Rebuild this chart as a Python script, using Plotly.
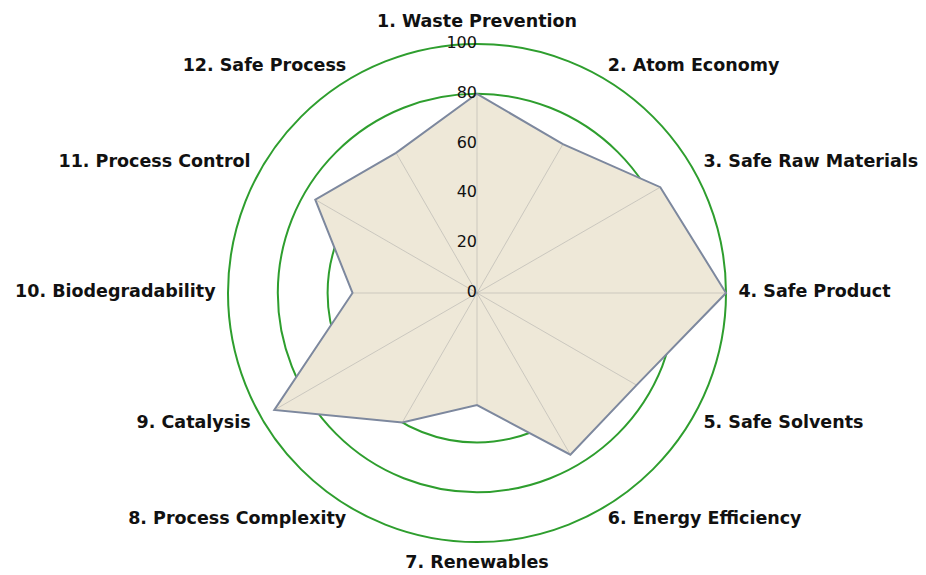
import plotly.graph_objects as go

categories = ["1. Waste Prevention", "2. Atom Economy", "3. Safe Raw Materials",
              "4. Safe Product", "5. Safe Solvents", "6. Energy Efficiency",
              "7. Renewables", "8. Process Complexity", "9. Catalysis",
              "10. Biodegradability", "11. Process Control", "12. Safe Process"]
scores = [80, 69, 85, 100, 74, 75, 45, 60, 94, 50, 75, 65]
tick_values = [0, 20, 40, 60, 80, 100]
tick_labels = ["0", "20", "40", "60", "80", "100"]

fig = go.Figure()

fig.add_trace(go.Scatterpolar(
    r=scores + [scores[0]],
    theta=categories + [categories[0]],
    mode="lines",
    fill="toself",
    fillcolor="#EEE8D8",
    line=dict(color="#7D889E", width=2),
    hoverinfo="skip",
    showlegend=False,
))

# spokes drawn only within the filled area
for c, v in zip(categories, scores):
    fig.add_trace(go.Scatterpolar(
        r=[0, v], theta=[c, c], mode="lines",
        line=dict(color="rgba(160,160,160,0.45)", width=1),
        hoverinfo="skip", showlegend=False,
    ))

# radial tick labels
fig.add_trace(go.Scatterpolar(
    r=tick_values, theta=[categories[0]] * len(tick_values),
    mode="text", text=tick_labels, textposition="middle left",
    textfont=dict(size=16, color="#111111", family="DejaVu Sans"),
    hoverinfo="skip", showlegend=False,
))

# category labels placed just outside the outer ring
n = len(categories)
positions = []
for i in range(n):
    if i == 0:
        positions.append("top center")
    elif i < n // 2:
        positions.append("middle right")
    elif i == n // 2:
        positions.append("bottom center")
    else:
        positions.append("middle left")

label_r = 105
fig.add_trace(go.Scatterpolar(
    r=[label_r] * n, theta=categories,
    mode="text", text=categories, textposition=positions,
    textfont=dict(size=17.5, color="#111111", family="DejaVu Sans", weight="bold"),
    cliponaxis=False,
    hoverinfo="skip", showlegend=False,
))

r_max = 110
R = 249 * r_max / 100
cx, cy = 469, 285
W, H = 926, 575
t = cy - R
b = H - (cy + R)

fig.update_layout(
    width=W, height=H,
    paper_bgcolor="white",
    plot_bgcolor="white",
    margin=dict(l=0, r=0, t=t, b=b),
    font=dict(family="DejaVu Sans", color="#111111"),
    polar=dict(
        domain=dict(x=[(cx - R) / W, (cx + R) / W], y=[0, 1]),
        bgcolor="rgba(0,0,0,0)",
        radialaxis=dict(
            range=[0, r_max],
            tickvals=tick_values,
            showticklabels=False,
            angle=90,
            showline=False,
            ticks="",
            gridcolor="#2E9E2E",
            gridwidth=1.8,
        ),
        angularaxis=dict(
            direction="clockwise",
            rotation=90,
            showgrid=False,
            ticks="",
            showticklabels=False,
            showline=False,
        ),
    ),
)

fig.write_html("out.html")
